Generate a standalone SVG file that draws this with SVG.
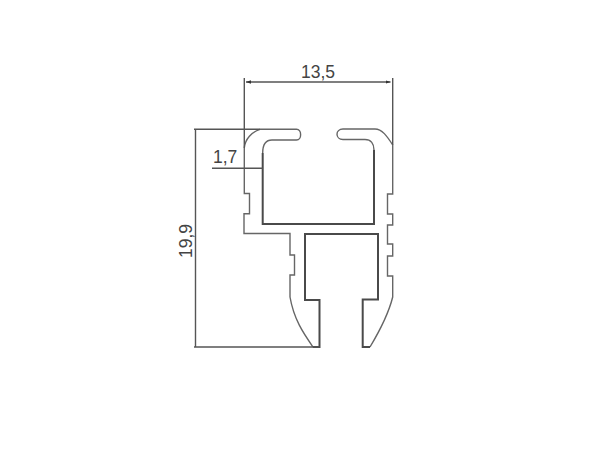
<svg xmlns="http://www.w3.org/2000/svg" width="600" height="475" viewBox="0 0 600 475">
<style>
.p{fill:none;stroke:#666;stroke-width:1.4;stroke-linejoin:miter}
.i{fill:none;stroke:#4a4a4a;stroke-width:2}
.d{fill:none;stroke:#555;stroke-width:1.4}
.t{font-family:"Liberation Sans",Arial,sans-serif;font-size:17.5px;fill:#444}
</style>
<defs>
<marker id="a" viewBox="0 0 6 4" refX="6" refY="2" markerWidth="5" markerHeight="3.5" orient="auto-start-reverse" markerUnits="userSpaceOnUse"><path d="M0 0L6 2L0 4z" fill="#333"/></marker>
</defs>
<rect width="600" height="475" fill="#fff"/>
<g id="profile">
<path class="p" d="M244.3 148V193.5H249.5V213.8H244V233.5H290V255H294.5V275H290V297C294 320 304 334 313 347"/>
<path class="p" d="M370 347C379 332 388 316 392.7 297V276H387.5V256H392.7V244H387.5V225H392.7V214H387.5V194H392.7V145C387 136 382 129 375 129H343C335 129 335 139.5 343 139.5H365C371 139.5 374 144 374 150"/>
<path class="p" d="M262.7 153C262.7 145 266 140 272 140H296.5C302 140 302 129.3 296.5 129.3H260C252 132 245 139 244.3 148"/>
<path class="i" d="M313 347H319.5V300H305V234H378V299.5H362.7V347H370"/>
<path class="i" d="M374 150V224H262.7V153"/>
</g>
<g id="dimensions">
<path class="d" d="M244.3 78V148M392.7 78V145"/>
<path class="d" d="M246 82H390.5" marker-start="url(#a)" marker-end="url(#a)"/>
<path class="d" d="M194 129.3H260M195.5 129.3V347M194 347H319.5"/>
<path class="d" d="M212 168.3H262.7" stroke-width="1"/>
<text class="t" x="301" y="77.5">13,5</text>
<text class="t" x="213" y="163">1,7</text>
<text class="t" transform="translate(192 258) rotate(-90)">19,9</text>
</g>
</svg>
